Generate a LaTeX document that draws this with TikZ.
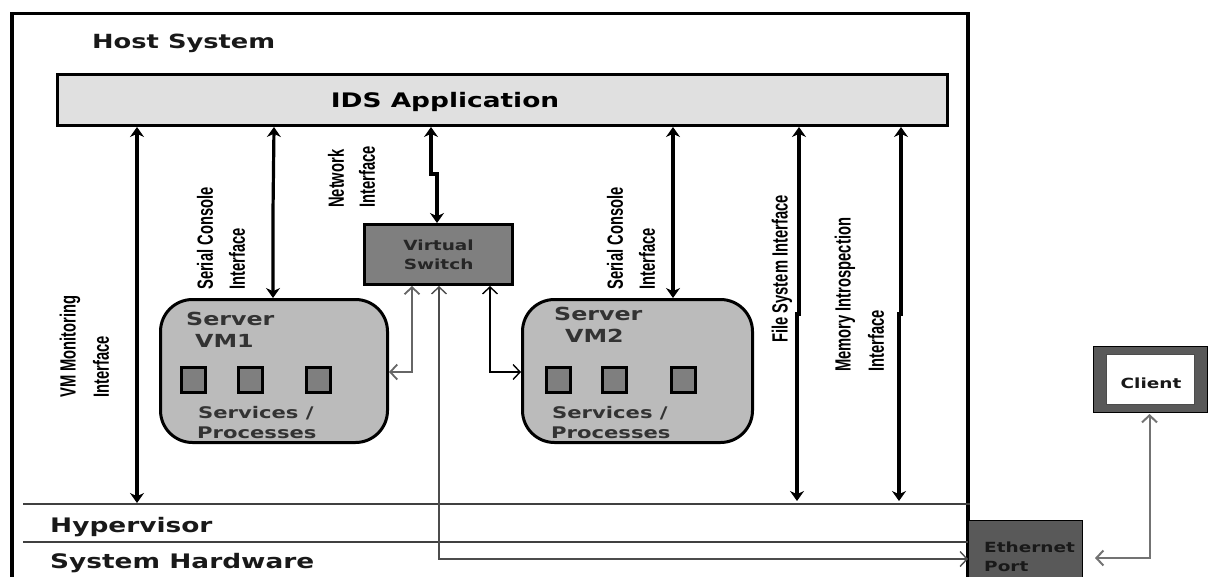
\documentclass[tikz,border=0pt]{standalone}
\usepackage{xcolor}
\usepackage{fontspec}
\setmainfont{DejaVu Sans}
\newfontfamily\widefont[FakeStretch=1.32]{DejaVu Sans}
\newfontfamily\slimfont[FakeStretch=0.67]{Liberation Sans}
\usetikzlibrary{arrows.meta}

\definecolor{appgray}{HTML}{E0E0E0}
\definecolor{vmgray}{HTML}{BBBBBB}
\definecolor{switchgray}{HTML}{7F7F7F}
\definecolor{portgray}{HTML}{595959}

\tikzset{
    layerlabel/.style={anchor=west, font=\widefont\bfseries\fontsize{20}{22}\selectfont, text=black!90, inner sep=0},
    sidelabel/.style={rotate=90, anchor=west, font=\slimfont\bfseries\fontsize{22}{24}\selectfont, inner sep=0},
    vmlabel/.style={anchor=west, font=\widefont\bfseries\fontsize{16}{18}\selectfont, text=black!80, inner sep=0},
    vmbox/.style={draw, rectangle, rounded corners=32, fill=vmgray, line width=3, minimum width=227, minimum height=143, anchor=north west},
    procbox/.style={draw, rectangle, fill=switchgray, line width=3.2, minimum width=24, minimum height=25, inner sep=0, anchor=north west},
    thickarrow/.style={<->, >={Stealth[length=10, width=14]}, line width=3.2},
    thinarrow/.style={<->, >={Straight Barb[length=7, width=15]}},
}

\begin{document}
\begin{tikzpicture}[x=1pt, y=-1pt]
    \useasboundingbox (0,0) rectangle (1208,576);

    % Host
    \node[draw, rectangle, line width=3.6, minimum width=956, minimum height=580, inner sep=0, anchor=north west] (host) at (10,11.5) {};
    \node[layerlabel, font=\widefont\bfseries\fontsize{19.5}{21}\selectfont] (host-label) at (92,43) {Host System};

    % Application
    \node[draw, rectangle, fill=appgray, line width=3.2, minimum width=889.5, minimum height=50.5, anchor=north west] (ids) at (56,73) {};
    \node[font=\widefont\bfseries\fontsize{20}{22}\selectfont, inner sep=0] (ids-label) at (445,102) {IDS Application};

    % Layers
    \coordinate (hyper-left) at (23,504);
    \coordinate (hard-left) at (23,542);
    \draw[line width=1.2, black!75] (hyper-left) -- (hyper-left -| host.east);
    \draw[line width=1.4, black!75] (hard-left) -- (hard-left -| host.east);
    \node[layerlabel] (hyper-label) at (50,527) {Hypervisor};
    \node[layerlabel] (hard-label) at (50,563) {System Hardware};

    % Switch
    \node[draw, rectangle, fill=switchgray, line width=3.2, minimum width=148, minimum height=60, anchor=north west, align=center, font=\widefont\bfseries\fontsize{14}{19}\selectfont, text=black!85] (switch) at (363,223) {Virtual\\Switch};

    % Server 1
    \node[vmbox] (vm1) at (159,298) {};
    \node[vmlabel, font=\widefont\bfseries\fontsize{18}{20}\selectfont] (vm1-name) at (186,319) {Server};
    \node[vmlabel, font=\widefont\bfseries\fontsize{18}{20}\selectfont] (vm1-num) at (195,341) {VM1};
    \node[procbox] (p1) at (180,366) {};
    \node[procbox] (p2) at (237,366) {};
    \node[procbox] (p3) at (305,366) {};
    \node[vmlabel] (vm1-serv) at (198,413) {Services /};
    \node[vmlabel] (vm1-proc) at (197,433) {Processes};

    % Server 2
    \node[vmbox, minimum width=230] (vm2) at (521,298) {};
    \node[vmlabel, font=\widefont\bfseries\fontsize{18}{20}\selectfont] (vm2-name) at (554,314) {Server};
    \node[vmlabel, font=\widefont\bfseries\fontsize{18}{20}\selectfont] (vm2-num) at (565,336) {VM2};
    \node[procbox] (p4) at (545,366) {};
    \node[procbox] (p5) at (601,366) {};
    \node[procbox] (p6) at (670,366) {};
    \node[vmlabel] (vm2-serv) at (552,413) {Services /};
    \node[vmlabel] (vm2-proc) at (551,433) {Processes};

    % Port and client
    \node[draw, rectangle, fill=portgray, line width=1, minimum width=114, minimum height=60, inner sep=0, anchor=north west] (port) at (968,520) {};
    \node[anchor=west, align=left, inner sep=0, font=\widefont\bfseries\fontsize{14}{19}\selectfont, text=black!90] (port-label) at (984,557) {Ethernet\\Port};
    \node[draw, rectangle, fill=portgray, line width=1, minimum width=114, minimum height=66, inner sep=0, anchor=north west] (client-frame) at (1093,346) {};
    \node[draw=black!70, rectangle, fill=white, line width=1, minimum width=88, minimum height=50, inner sep=0] (client) at (client-frame.center) {};
    \node[inner sep=0, font=\widefont\bfseries\fontsize{14}{16}\selectfont, text=black!90] (client-label) at (1151,383) {Client};

    % Arrows to the application
    \coordinate (mon-top) at (137,127);
    \coordinate (mon-bot) at (137,503);
    \draw[thickarrow] (mon-top) -- (mon-bot);
    \coordinate (con1-top) at (274,127);
    \coordinate (con1-mid) at (273,212);
    \draw[thickarrow] (con1-top) -- (con1-mid) -- (con1-mid |- vm1.north);
    \coordinate (net-top) at (431,127);
    \coordinate (net-a) at (431,174);
    \coordinate (net-b) at (437,174);
    \draw[thickarrow] (net-top) -- (net-a) -- (net-b) -- (net-b |- switch.north);
    \coordinate (con2-top) at (673,127);
    \draw[thickarrow] (con2-top) -- (con2-top |- vm2.north);
    \coordinate (file-top) at (799,127);
    \coordinate (file-a) at (799,314);
    \coordinate (file-b) at (797,314);
    \coordinate (file-bot) at (797,501);
    \draw[thickarrow] (file-top) -- (file-a) -- (file-b) -- (file-bot);
    \coordinate (mem-top) at (901,127);
    \coordinate (mem-a) at (901,314);
    \coordinate (mem-b) at (899,314);
    \coordinate (mem-bot) at (899,501);
    \draw[thickarrow] (mem-top) -- (mem-a) -- (mem-b) -- (mem-bot);

    % Arrows to the switch
    \coordinate (sw-a) at (412,286);
    \coordinate (sw-b) at (439,286);
    \coordinate (sw-c) at (490,286);
    \coordinate (sw-row) at (0,372);
    \coordinate (wire-row) at (0,559);
    \draw[thinarrow, line width=1.8, black!60] (sw-a) -- (sw-a |- sw-row) -- (sw-a |- sw-row -| vm1.east);
    \draw[thinarrow, line width=1.4] (sw-c) -- (sw-c |- sw-row) -- (sw-c |- sw-row -| vm2.west);
    \draw[thinarrow, line width=1.4, black!70] (sw-b) -- (sw-b |- wire-row) -- (sw-b |- wire-row -| port.west);
    \coordinate (client-wire) at (1095,558);
    \draw[thinarrow, line width=2, black!55] (client-frame.south) ++(-1,1) coordinate (client-bot) -- (client-bot |- client-wire) -- (client-wire);

    % Interface labels
    \node[sidelabel] (mon-l1) at (70,398) {VM Monitoring};
    \node[sidelabel] (mon-l2) at (101,398) {Interface};
    \node[sidelabel] (con1-l1) at (205,290) {Serial Console};
    \node[sidelabel] (con1-l2) at (237,290) {Interface};
    \node[sidelabel] (net-l1) at (336,208) {Network};
    \node[sidelabel] (net-l2) at (367,208) {Interface};
    \node[sidelabel] (con2-l1) at (615,290) {Serial Console};
    \node[sidelabel] (con2-l2) at (647,290) {Interface};
    \node[sidelabel] (file-l1) at (782,343) {File System Interface};
    \node[sidelabel] (mem-l1) at (845,372) {Memory Introspection};
    \node[sidelabel] (mem-l2) at (876,372) {Interface};
\end{tikzpicture}
\end{document}
